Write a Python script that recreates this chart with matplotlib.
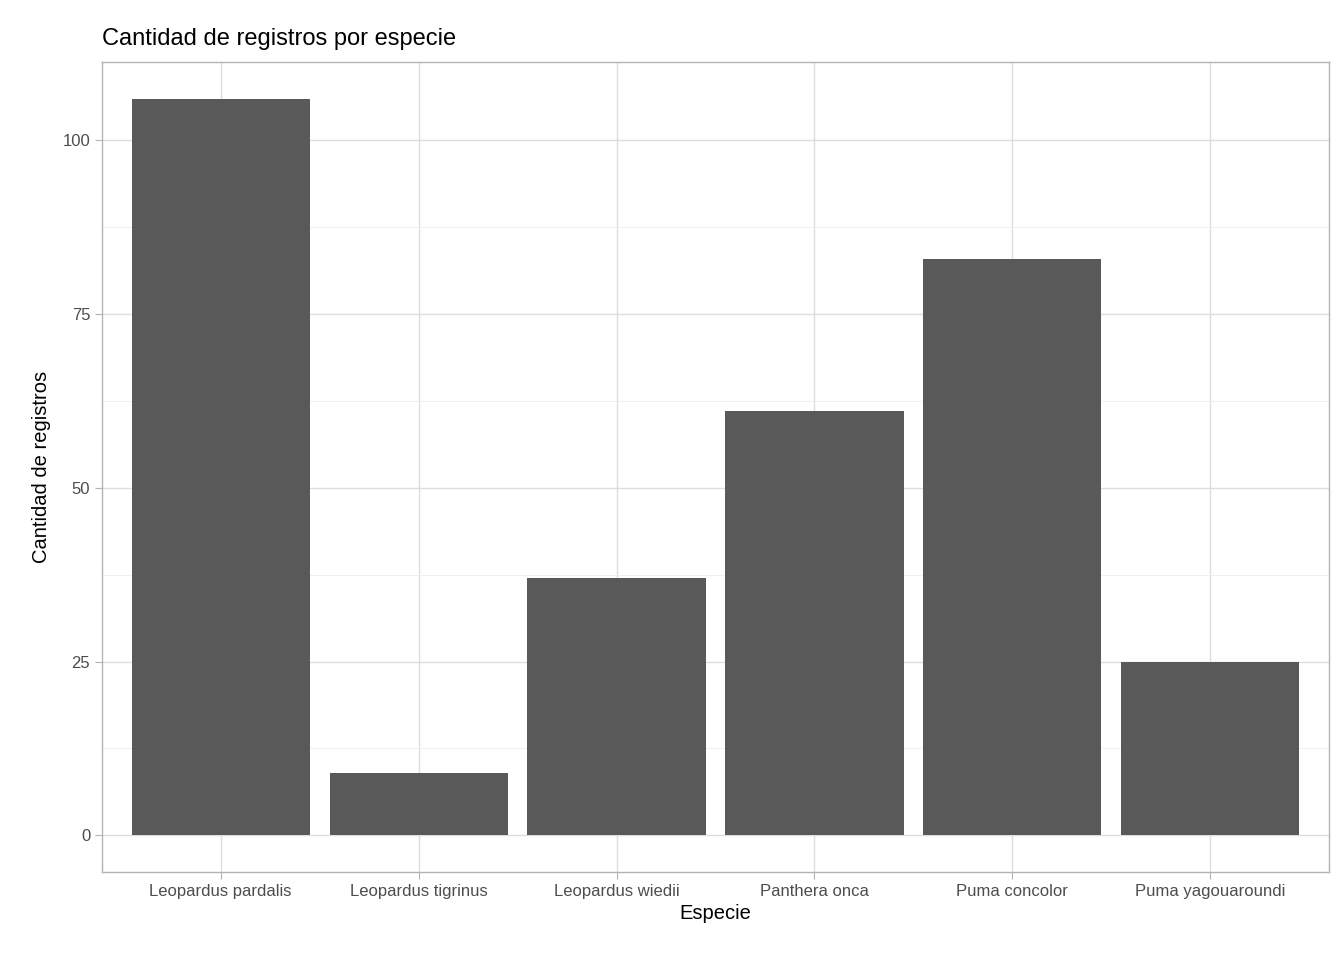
import matplotlib
matplotlib.use('Agg')
import matplotlib.pyplot as plt

# datos
especies = ['Leopardus pardalis', 'Leopardus tigrinus', 'Leopardus wiedii',
            'Panthera onca', 'Puma concolor', 'Puma yagouaroundi']
registros = [106, 9, 37, 61, 83, 25]
yticks = [0, 25, 50, 75, 100]

plt.rcParams['font.family'] = ['Liberation Sans', 'DejaVu Sans']

fig = plt.figure(figsize=(13.44, 9.6), dpi=100)
ax = fig.add_axes([102/1344, 1 - 872/960, (1329-102)/1344, (872-62)/960])

x = range(len(especies))
ax.bar(x, registros, width=0.9, color='#595959', zorder=3)

ax.set_xlim(-0.6, len(especies) - 0.4)
ax.set_ylim(-5.3, 111.3)
ax.set_xticks(list(x))
ax.set_xticklabels(especies)
ax.set_yticks(yticks)
ax.set_yticks([12.5, 37.5, 62.5, 87.5], minor=True)

ax.grid(True, which='major', color='#DEDEDE', linewidth=1.0, zorder=0)
ax.grid(True, which='minor', axis='y', color='#EDEDED', linewidth=0.6, zorder=0)
for s in ax.spines.values():
    s.set_color('#B3B3B3')
    s.set_linewidth(1.0)
ax.tick_params(which='major', colors='#B3B3B3', labelcolor='#4D4D4D',
               labelsize=12, length=5)
ax.tick_params(which='minor', length=0)

ax.set_title('Cantidad de registros por especie', loc='left', fontsize=17, pad=12)
ax.set_xlabel('Especie', fontsize=14.5, labelpad=4)
ax.set_ylabel('Cantidad de registros', fontsize=14.5, labelpad=8)

fig.savefig('out.png', dpi=100)
